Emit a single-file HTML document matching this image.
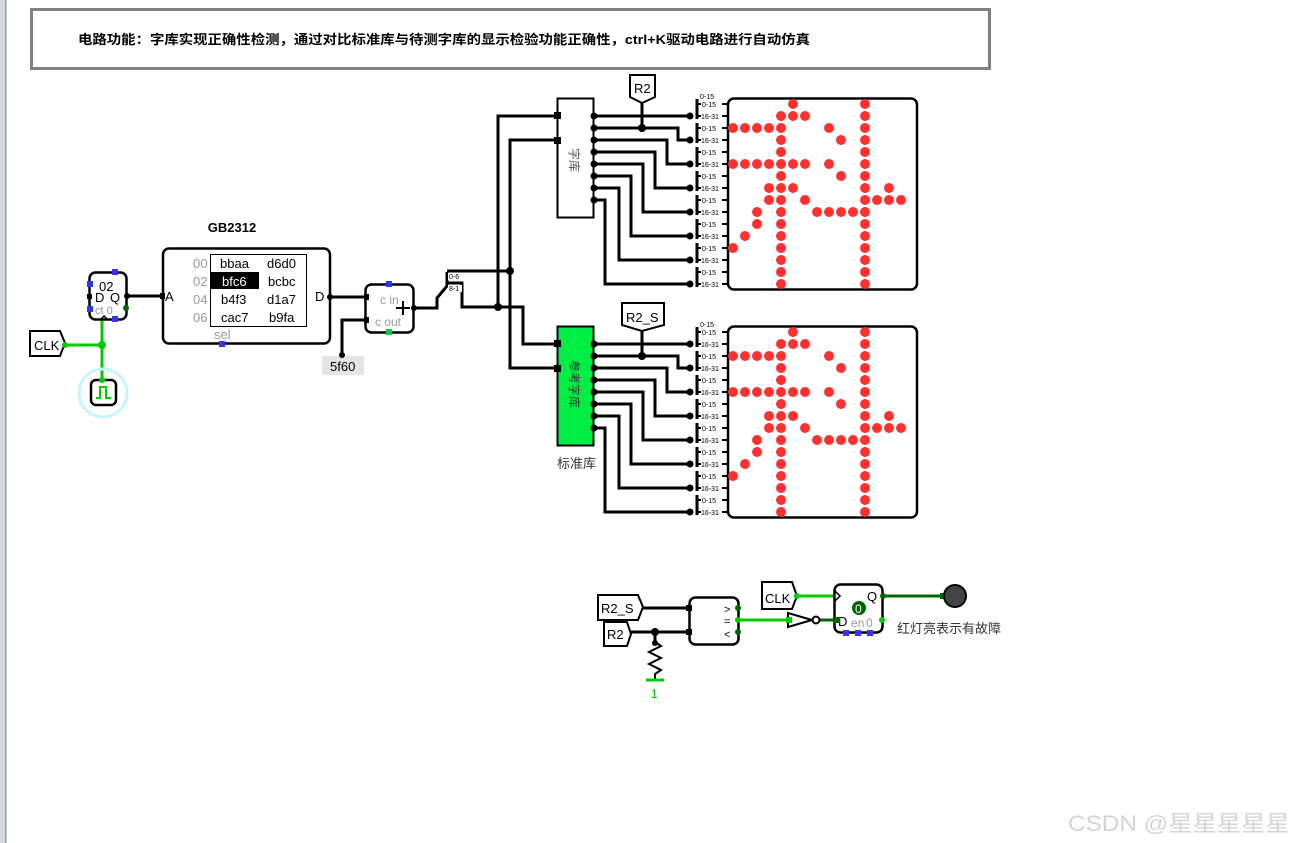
<!DOCTYPE html>
<html><head><meta charset="utf-8"><style>
html,body{margin:0;padding:0;background:#fff;}
svg{display:block;font-family:"Liberation Sans","Noto Sans CJK SC",sans-serif;}
</style></head><body>
<svg width="1306" height="843" viewBox="0 0 1306 843" xmlns="http://www.w3.org/2000/svg">
<rect x="0" y="0" width="5" height="843" fill="#d8dae2"/>
<rect x="5" y="0" width="1.5" height="843" fill="#9a9aaa"/>
<rect x="31.5" y="9.5" width="958" height="59" fill="#fff" stroke="#808080" stroke-width="3"/>
<text x="78" y="44" font-size="13" font-weight="bold" textLength="732" lengthAdjust="spacingAndGlyphs">电路功能：字库实现正确性检测，通过对比标准库与待测字库的显示检验功能正确性，ctrl+K驱动电路进行自动仿真</text>

<g fill="none" stroke-linecap="square">
<path d="M64 345 H102 M102 322 V380" stroke="#00cc00" stroke-width="3"/>
<path d="M127 296 H162 M330 297 H368 M342 355 V320 H368 M414 308 H437" stroke="#000" stroke-width="3"/>
</g>
<circle cx="103" cy="393" r="24" fill="none" stroke="#c8f4fc" stroke-width="3"/>
<rect x="91" y="380" width="25" height="25" rx="5" fill="#fff" stroke="#000" stroke-width="2.5"/>
<path d="M96 398 H100 V387 H106 V398 H111" fill="none" stroke="#00cc00" stroke-width="2"/>
<circle cx="102" cy="345" r="4" fill="#00cc00"/><circle cx="102" cy="380" r="3" fill="#00cc00"/>
<path d="M30 331 H60 L65 343 L60 356 H30 Z" fill="#fff" stroke="#000" stroke-width="2"/>
<text x="34" y="350" font-size="13">CLK</text>
<circle cx="65" cy="345" r="3" fill="#00cc00"/>

<rect x="89.5" y="272.5" width="37" height="47" rx="6" fill="#fff" stroke="#000" stroke-width="2.5"/>
<text x="99" y="291" font-size="13">02</text>
<text x="95" y="302" font-size="13">D</text><text x="110" y="302" font-size="13">Q</text>
<text x="95" y="314" font-size="11" fill="#999">ct 0</text>
<path d="M100 320 L104 316 L108 320" fill="none" stroke="#000" stroke-width="1.5"/>
<rect x="112" y="269" width="6" height="6" fill="#3333ff"/>
<rect x="87" y="281" width="6" height="6" fill="#3333ff"/>
<rect x="87" y="306" width="6" height="6" fill="#3333ff"/>
<rect x="112" y="316" width="6" height="6" fill="#3333ff"/>
<rect x="87" y="294" width="5" height="5" fill="#000"/>
<circle cx="127" cy="296" r="3" fill="#000"/><circle cx="126" cy="308" r="3" fill="#006600"/>

<text x="232" y="232" font-size="13" font-weight="bold" text-anchor="middle">GB2312</text>
<rect x="163" y="248.5" width="167" height="95" rx="6" fill="#fff" stroke="#000" stroke-width="2.5"/>
<rect x="210.5" y="254.5" width="96" height="72" fill="#fff" stroke="#000" stroke-width="1"/>
<rect x="211" y="272" width="48" height="17" fill="#000"/>
<g font-size="13">
<text x="193" y="268" fill="#999">00</text><text x="193" y="286" fill="#999">02</text><text x="193" y="304" fill="#999">04</text><text x="193" y="322" fill="#999">06</text>
<text x="220" y="268">bbaa</text><text x="267" y="268">d6d0</text>
<text x="222" y="286" fill="#fff">bfc6</text><text x="268" y="286">bcbc</text>
<text x="221" y="304">b4f3</text><text x="267" y="304">d1a7</text>
<text x="221" y="322">cac7</text><text x="269" y="322">b9fa</text>
<text x="165" y="301">A</text><text x="315" y="301">D</text>
<text x="214" y="339" fill="#999">sel</text>
</g>
<rect x="160" y="293" width="5" height="6" fill="#000"/>
<circle cx="330" cy="297" r="3" fill="#000"/>
<rect x="219" y="341" width="6" height="6" fill="#3333ff"/>

<rect x="365.5" y="284.5" width="48" height="48" rx="6" fill="#fff" stroke="#000" stroke-width="2.5"/>
<text x="380" y="304" font-size="12" fill="#999">c in</text>
<text x="375" y="326" font-size="12" fill="#999">c out</text>
<path d="M396 308 H410 M403 301 V315" stroke="#000" stroke-width="2"/>
<rect x="386" y="281" width="6" height="6" fill="#3333ff"/>
<rect x="386" y="329" width="6" height="6" fill="#00cc44"/>
<rect x="364" y="294" width="5" height="6" fill="#000"/><rect x="364" y="317" width="5" height="6" fill="#000"/>
<circle cx="414" cy="308" r="3" fill="#000"/>
<rect x="322" y="356" width="42" height="19" fill="#e4e4e4"/>
<text x="330" y="371" font-size="13">5f60</text>
<circle cx="342" cy="355" r="3" fill="#000"/>

<g fill="none" stroke="#000" stroke-width="3">
<path d="M437 307 V298 L447 286 V272 M447 271 H510 M447 283 H462 V307 H498"/>
<path d="M498 307 V116 H557 M510 271 V140 H557 M498 307 H523 V344 H557 M510 271 V368 H557"/>
</g>
<rect x="448" y="273" width="14" height="7" fill="#fff"/><text x="449" y="279" font-size="7">0-6</text>
<rect x="448" y="285" width="14" height="7" fill="#fff"/><text x="449" y="291" font-size="7">8-1</text>
<circle cx="510" cy="271" r="4" fill="#000"/><circle cx="498" cy="307" r="4" fill="#000"/>

<rect x="557.5" y="98.5" width="36" height="119" fill="#fff" stroke="#000" stroke-width="2"/>
<text transform="translate(570,148) rotate(90)" font-size="12" fill="#555">字库</text>
<rect x="554" y="112" width="7" height="7" fill="#000"/><rect x="554" y="137" width="7" height="7" fill="#000"/>
<rect x="557.5" y="326.5" width="36" height="119" fill="#00ee44" stroke="#000" stroke-width="2"/>
<text transform="translate(570,360) rotate(90)" font-size="12" fill="#333">参考字库</text>
<rect x="554" y="340" width="7" height="7" fill="#000"/><rect x="554" y="365" width="7" height="7" fill="#000"/>
<text x="557" y="468" font-size="13" fill="#333">标准库</text>

<defs>
<g id="blk">
<g fill="none" stroke="#000" stroke-width="3">
<path d="M594 116 H692 M594 128 H678 V140 H692 M594 140 H667 V164 H692 M594 152 H655 V188 H692 M594 164 H643 V212 H692 M594 176 H631 V236 H692 M594 188 H619 V260 H692 M594 200 H605 V284 H692"/>
</g>
<g fill="#000">
<circle cx="594" cy="116" r="3.5"/><circle cx="594" cy="128" r="3.5"/><circle cx="594" cy="140" r="3.5"/><circle cx="594" cy="152" r="3.5"/><circle cx="594" cy="164" r="3.5"/><circle cx="594" cy="176" r="3.5"/><circle cx="594" cy="188" r="3.5"/><circle cx="594" cy="200" r="3.5"/>
<circle cx="690" cy="116" r="3.5"/><circle cx="690" cy="140" r="3.5"/><circle cx="690" cy="164" r="3.5"/><circle cx="690" cy="188" r="3.5"/><circle cx="690" cy="212" r="3.5"/><circle cx="690" cy="236" r="3.5"/><circle cx="690" cy="260" r="3.5"/><circle cx="690" cy="284" r="3.5"/>
<circle cx="642" cy="128" r="4"/>
</g>
<g stroke="#000" stroke-width="3">
<path d="M697 99 V119 M697 123 V143 M697 147 V167 M697 171 V191 M697 195 V215 M697 219 V239 M697 243 V263 M697 267 V287"/>
<path d="M697 104 H728 M697 116 H728 M697 128 H728 M697 140 H728 M697 152 H728 M697 164 H728 M697 176 H728 M697 188 H728 M697 200 H728 M697 212 H728 M697 224 H728 M697 236 H728 M697 248 H728 M697 260 H728 M697 272 H728 M697 284 H728" stroke-width="2"/>
</g>
<g fill="#fff"><rect x="701" y="100" width="21" height="8"/><rect x="701" y="112" width="21" height="8"/><rect x="701" y="124" width="21" height="8"/><rect x="701" y="136" width="21" height="8"/><rect x="701" y="148" width="21" height="8"/><rect x="701" y="160" width="21" height="8"/><rect x="701" y="172" width="21" height="8"/><rect x="701" y="184" width="21" height="8"/><rect x="701" y="196" width="21" height="8"/><rect x="701" y="208" width="21" height="8"/><rect x="701" y="220" width="21" height="8"/><rect x="701" y="232" width="21" height="8"/><rect x="701" y="244" width="21" height="8"/><rect x="701" y="256" width="21" height="8"/><rect x="701" y="268" width="21" height="8"/><rect x="701" y="280" width="21" height="8"/></g>
<g font-size="7" fill="#000">
<text x="700" y="99">0-15</text>
<text x="702" y="107">0-15</text><text x="701" y="119">16-31</text><text x="702" y="131">0-15</text><text x="701" y="143">16-31</text><text x="702" y="155">0-15</text><text x="701" y="167">16-31</text><text x="702" y="179">0-15</text><text x="701" y="191">16-31</text><text x="702" y="203">0-15</text><text x="701" y="215">16-31</text><text x="702" y="227">0-15</text><text x="701" y="239">16-31</text><text x="702" y="251">0-15</text><text x="701" y="263">16-31</text><text x="702" y="275">0-15</text><text x="701" y="287">16-31</text>
</g>
<rect x="728" y="98.5" width="189" height="191" rx="6" fill="#fff" stroke="#000" stroke-width="2.5"/>
<g fill="#ff3030">
<circle cx="793" cy="104" r="5"/><circle cx="865" cy="104" r="5"/>
<circle cx="781" cy="116" r="5"/><circle cx="793" cy="116" r="5"/><circle cx="805" cy="116" r="5"/><circle cx="865" cy="116" r="5"/>
<circle cx="733" cy="128" r="5"/><circle cx="745" cy="128" r="5"/><circle cx="757" cy="128" r="5"/><circle cx="769" cy="128" r="5"/><circle cx="781" cy="128" r="5"/><circle cx="829" cy="128" r="5"/><circle cx="865" cy="128" r="5"/>
<circle cx="781" cy="140" r="5"/><circle cx="841" cy="140" r="5"/><circle cx="865" cy="140" r="5"/>
<circle cx="781" cy="152" r="5"/><circle cx="865" cy="152" r="5"/>
<circle cx="733" cy="164" r="5"/><circle cx="745" cy="164" r="5"/><circle cx="757" cy="164" r="5"/><circle cx="769" cy="164" r="5"/><circle cx="781" cy="164" r="5"/><circle cx="793" cy="164" r="5"/><circle cx="805" cy="164" r="5"/><circle cx="829" cy="164" r="5"/><circle cx="865" cy="164" r="5"/>
<circle cx="781" cy="176" r="5"/><circle cx="841" cy="176" r="5"/><circle cx="865" cy="176" r="5"/>
<circle cx="769" cy="188" r="5"/><circle cx="781" cy="188" r="5"/><circle cx="793" cy="188" r="5"/><circle cx="865" cy="188" r="5"/><circle cx="889" cy="188" r="5"/>
<circle cx="769" cy="200" r="5"/><circle cx="781" cy="200" r="5"/><circle cx="805" cy="200" r="5"/><circle cx="865" cy="200" r="5"/><circle cx="877" cy="200" r="5"/><circle cx="889" cy="200" r="5"/><circle cx="901" cy="200" r="5"/>
<circle cx="757" cy="212" r="5"/><circle cx="781" cy="212" r="5"/><circle cx="817" cy="212" r="5"/><circle cx="829" cy="212" r="5"/><circle cx="841" cy="212" r="5"/><circle cx="853" cy="212" r="5"/><circle cx="865" cy="212" r="5"/>
<circle cx="757" cy="224" r="5"/><circle cx="781" cy="224" r="5"/><circle cx="865" cy="224" r="5"/>
<circle cx="745" cy="236" r="5"/><circle cx="781" cy="236" r="5"/><circle cx="865" cy="236" r="5"/>
<circle cx="733" cy="248" r="5"/><circle cx="781" cy="248" r="5"/><circle cx="865" cy="248" r="5"/>
<circle cx="781" cy="260" r="5"/><circle cx="865" cy="260" r="5"/>
<circle cx="781" cy="272" r="5"/><circle cx="865" cy="272" r="5"/>
<circle cx="781" cy="284" r="5"/><circle cx="865" cy="284" r="5"/>
</g>
</g>
</defs>
<use href="#blk"/>
<use href="#blk" y="228"/>
<path d="M642 100 V128" stroke="#000" stroke-width="3"/>
<path d="M630 75 H655 V97 L642 103 L630 97 Z" fill="#fff" stroke="#000" stroke-width="2"/>
<text x="634" y="93" font-size="13">R2</text>
<path d="M642 328 V356" stroke="#000" stroke-width="3"/>
<path d="M622 303 H664 V325 L642 331 L622 325 Z" fill="#fff" stroke="#000" stroke-width="2"/>
<text x="626" y="322" font-size="13">R2_S</text>

<g fill="none" stroke-width="3">
<path d="M640 608 H689 M628 632 H689 M655 632 V642" stroke="#000"/>
<path d="M655 642 L661 646 L649 652 L661 658 L649 664 L661 670 L655 674 V680" stroke="#000" stroke-width="2"/>
<path d="M738 620 H790 M797 596 H834" stroke="#00cc00"/>
<path d="M820 620 H838 M883 596 H945" stroke="#006600"/>
</g>
<path d="M646 680 H664" stroke="#00cc00" stroke-width="3"/>
<text x="651" y="698" font-size="12" fill="#00aa00">1</text>
<circle cx="655" cy="632" r="4" fill="#000"/><circle cx="655" cy="643" r="3" fill="#000"/>
<path d="M598 595 H638 L643 607 L638 620 H598 Z" fill="#fff" stroke="#000" stroke-width="2"/>
<text x="601" y="613" font-size="13">R2_S</text>
<path d="M604 622 H627 L631 634 L627 646 H604 Z" fill="#fff" stroke="#000" stroke-width="2"/>
<text x="607" y="639" font-size="13">R2</text>
<rect x="689.5" y="597.5" width="49" height="47" rx="6" fill="#fff" stroke="#000" stroke-width="2.5"/>
<text x="724" y="613" font-size="11">&gt;</text><text x="724" y="625" font-size="11">=</text><text x="724" y="638" font-size="11">&lt;</text>
<rect x="686" y="605" width="6" height="6" fill="#000"/><rect x="686" y="629" width="6" height="6" fill="#000"/>
<circle cx="738" cy="608" r="3" fill="#006600"/><circle cx="738" cy="620" r="3" fill="#00cc00"/><circle cx="738" cy="632" r="3" fill="#006600"/>
<path d="M788 613 L812 620 L788 627 Z" fill="#fff" stroke="#000" stroke-width="2"/>
<circle cx="816" cy="620" r="3.5" fill="#fff" stroke="#000" stroke-width="2"/>
<rect x="786" y="617" width="6" height="6" fill="#00cc00"/>
<path d="M762 582 H792 L797 596 L792 609 H762 Z" fill="#fff" stroke="#000" stroke-width="2"/>
<text x="765" y="603" font-size="13">CLK</text>
<circle cx="797" cy="596" r="3" fill="#00cc00"/>
<rect x="834.5" y="584.5" width="48" height="48" rx="6" fill="#fff" stroke="#000" stroke-width="2.5"/>
<path d="M835 591 L840 596 L835 601" fill="none" stroke="#000" stroke-width="1.5"/>
<text x="867" y="601" font-size="13">Q</text>
<text x="838" y="626" font-size="13">D</text>
<text x="851" y="627" font-size="12" fill="#999">en</text><text x="866" y="627" font-size="12" fill="#999">0</text>
<circle cx="859" cy="608" r="7" fill="#006600"/>
<text x="855" y="613" font-size="12" fill="#fff">0</text>
<rect x="843" y="630" width="6" height="6" fill="#3333ff"/><rect x="855" y="630" width="6" height="6" fill="#3333ff"/><rect x="867" y="630" width="6" height="6" fill="#3333ff"/>
<rect x="834" y="617" width="6" height="6" fill="#006600"/>
<circle cx="883" cy="596" r="3" fill="#006600"/><circle cx="882" cy="620" r="3" fill="#00cc00"/>
<rect x="940" y="593" width="6" height="6" fill="#006600"/>
<circle cx="955" cy="596" r="11" fill="#444" stroke="#000" stroke-width="2"/>
<text x="897" y="633" font-size="13" fill="#333">红灯亮表示有故障</text>

<text x="1068" y="831" font-size="22" fill="#d4d4d4" textLength="222" lengthAdjust="spacingAndGlyphs">CSDN @星星星星星</text>
</svg>
</body></html>
